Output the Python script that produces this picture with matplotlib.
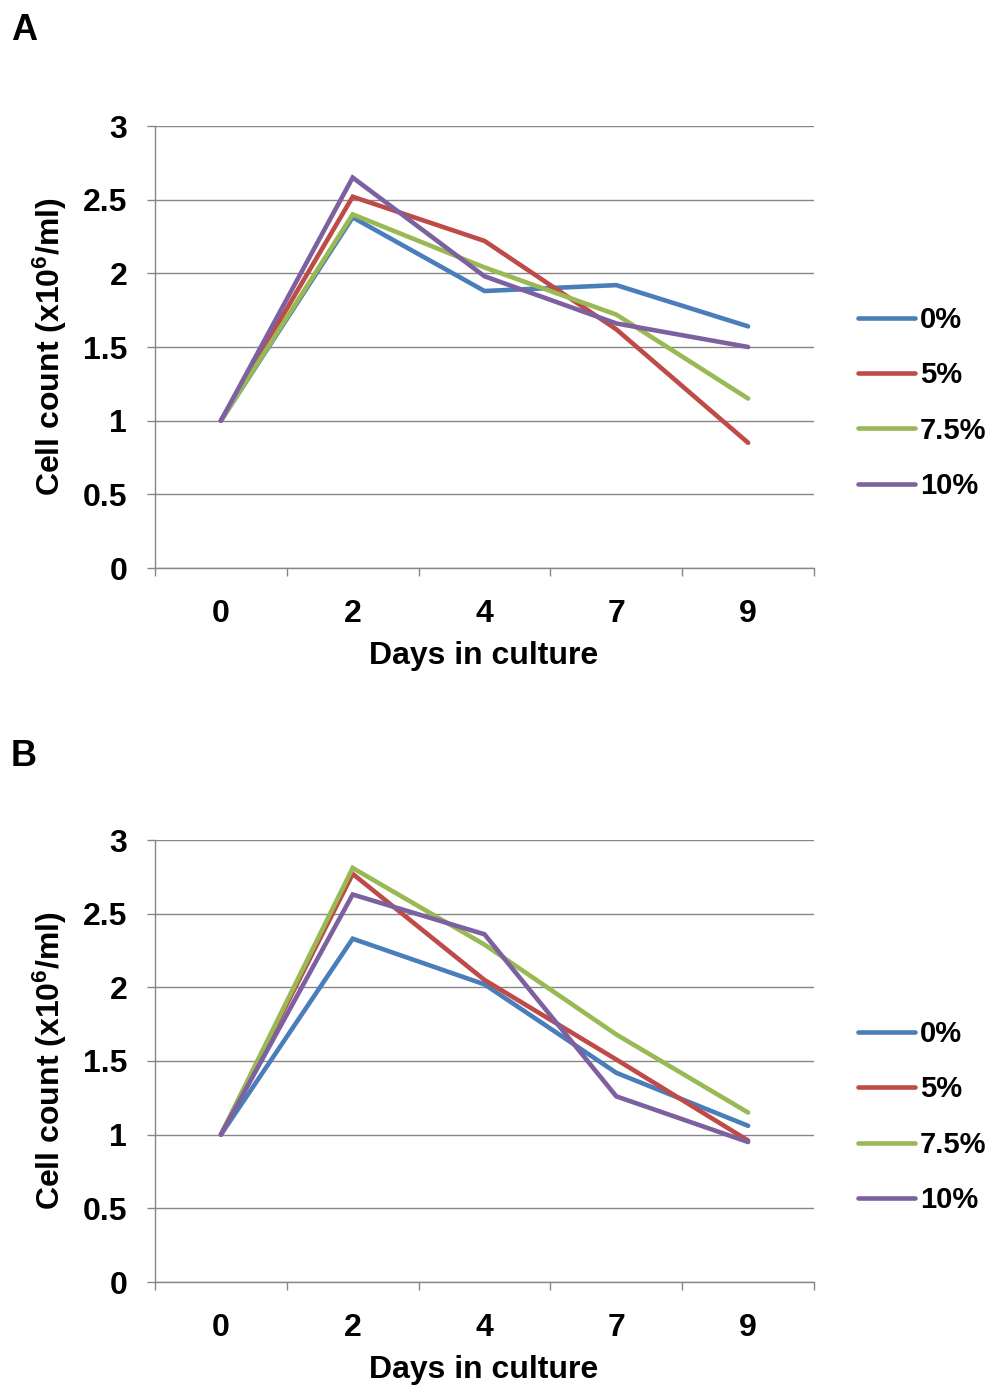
import matplotlib
matplotlib.use("Agg")
import matplotlib.pyplot as plt
import numpy as np

plt.rcParams['font.family'] = ['Liberation Sans', 'DejaVu Sans']
plt.rcParams['font.weight'] = 'bold'
plt.rcParams['mathtext.fontset'] = 'custom'
plt.rcParams['mathtext.rm'] = 'Liberation Sans:bold'
plt.rcParams['mathtext.it'] = 'Liberation Sans:bold'
plt.rcParams['mathtext.bf'] = 'Liberation Sans:bold'

days = ["0", "2", "4", "7", "9"]
series_names = ["0%", "5%", "7.5%", "10%"]
colors = ["#4A7EBB", "#BE4B48", "#98B954", "#7D60A0"]

panel_a = {
    "0%":   [1.0, 2.38, 1.88, 1.92, 1.64],
    "5%":   [1.0, 2.52, 2.22, 1.62, 0.85],
    "7.5%": [1.0, 2.40, 2.04, 1.72, 1.15],
    "10%":  [1.0, 2.65, 1.98, 1.66, 1.50],
}
panel_b = {
    "0%":   [1.0, 2.33, 2.02, 1.42, 1.06],
    "5%":   [1.0, 2.77, 2.05, 1.51, 0.96],
    "7.5%": [1.0, 2.81, 2.29, 1.68, 1.15],
    "10%":  [1.0, 2.63, 2.36, 1.26, 0.95],
}
yticks = [0, 0.5, 1, 1.5, 2, 2.5, 3]
yticklabels = ["0", "0.5", "1", "1.5", "2", "2.5", "3"]

W, H = 997, 1388
fig = plt.figure(figsize=(W / 100, H / 100), dpi=100)

def px_axes(left, top, right, bottom):
    return fig.add_axes([left / W, 1 - bottom / H, (right - left) / W, (bottom - top) / H])

grey = "#868686"
fs = 23
lfs = 21

def draw_panel(ax, data, top_px, letter, letter_y):
    x = np.arange(len(days))
    for name, c in zip(series_names, colors):
        ax.plot(x, data[name], color=c, lw=3.3, label=name, solid_capstyle='round', solid_joinstyle='miter')
    ax.set_xlim(-0.5, len(days) - 0.5)
    ax.set_ylim(0, 3)
    ax.set_yticks(yticks)
    ax.set_yticklabels(yticklabels, fontsize=fs, fontweight='bold')
    ax.set_xticks(x)
    ax.set_xticklabels(days, fontsize=fs, fontweight='bold')
    ax.set_xticks(np.arange(-0.5, len(days)), minor=True)
    ax.tick_params(axis='x', which='major', length=0, pad=22)
    ax.tick_params(axis='x', which='minor', length=6, width=1, color=grey, direction='out')
    ax.tick_params(axis='y', which='major', length=6, width=1, color=grey, direction='out', pad=14)
    ax.grid(axis='y', color=grey, lw=1)
    ax.set_axisbelow(True)
    for s in ['top', 'right']:
        ax.spines[s].set_visible(False)
    for s in ['left', 'bottom']:
        ax.spines[s].set_color(grey)
        ax.spines[s].set_linewidth(1)
    fig.text(50 / W, 1 - (top_px + 221) / H, r"Cell count (x10$^{6}$/ml)", rotation=90,
             ha='center', va='center', fontsize=fs, fontweight='bold')
    fig.text(484 / W, 1 - (top_px + 530) / H, "Days in culture", ha='center', va='center',
             fontsize=fs, fontweight='bold')
    fig.text(24 / W, 1 - letter_y / H, letter, ha='center', va='center',
             fontsize=26, fontweight='bold')
    ax.legend(loc='center left', bbox_to_anchor=(858 / W, 1 - (top_px + 277) / H),
              bbox_transform=fig.transFigure, frameon=False,
              handlelength=1.95, handletextpad=0.17, labelspacing=0.94, borderpad=0,
              borderaxespad=0, prop={'weight': 'bold', 'size': lfs})

ax_a = px_axes(155, 126, 814, 568)
draw_panel(ax_a, panel_a, 126, "A", 30)
ax_b = px_axes(155, 840, 814, 1282)
draw_panel(ax_b, panel_b, 840, "B", 757)

fig.savefig("out.png", dpi=100)
